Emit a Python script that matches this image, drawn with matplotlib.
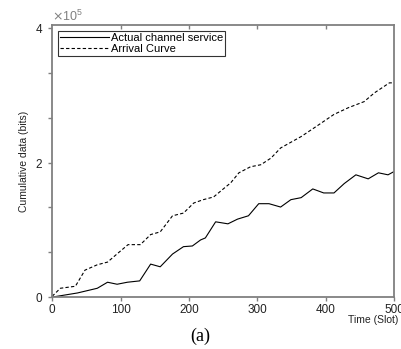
import numpy as np
import matplotlib.pyplot as plt
from matplotlib.ticker import ScalarFormatter, MultipleLocator

# Actual channel service (solid)
service_slot = [1, 37, 66, 81, 95, 110, 128, 144, 158, 176, 192, 205, 217, 224,
                239, 257, 271, 287, 302, 317, 334, 349, 364, 381, 397, 412, 427,
                444, 462, 477, 491, 500]
service_bits = [0.00, 0.06, 0.13, 0.22, 0.19, 0.22, 0.24, 0.49, 0.45, 0.64, 0.75,
                0.76, 0.85, 0.88, 1.12, 1.09, 1.16, 1.21, 1.39, 1.39, 1.34, 1.45,
                1.48, 1.61, 1.55, 1.55, 1.69, 1.82, 1.76, 1.85, 1.82, 1.87]

# Arrival curve (dashed)
arrival_slot = [0, 12, 34, 48, 66, 81, 97, 111, 129, 144, 158, 176, 192, 207, 221,
                236, 249, 261, 273, 290, 305, 320, 334, 364, 386, 412, 433, 456,
                471, 493, 500]
arrival_bits = [0.01, 0.13, 0.16, 0.40, 0.48, 0.52, 0.66, 0.78, 0.78, 0.93, 0.97,
                1.21, 1.25, 1.40, 1.45, 1.49, 1.60, 1.70, 1.85, 1.94, 1.97, 2.07,
                2.22, 2.39, 2.54, 2.72, 2.82, 2.91, 3.04, 3.19, 3.19]

x_ticks = [0, 100, 200, 300, 400, 500]

plt.rcParams['font.family'] = ['Liberation Sans', 'DejaVu Sans']

fig = plt.figure(figsize=(4.01, 3.49), dpi=100)
ax = fig.add_axes([0.130, 0.149, 0.853, 0.779])

ax.plot(service_slot, np.array(service_bits) * 1e5, color='black', linewidth=0.8,
        label='Actual channel service')
ax.plot(arrival_slot, np.array(arrival_bits) * 1e5, color='black', linewidth=0.8,
        linestyle=(0, (3, 2)), label='Arrival Curve')

ax.set_xlim(0, 500)
ax.set_ylim(0, 4.05e5)
ax.set_xticks(x_ticks)
ax.set_yticks([0, 2e5, 4e5])
ax.yaxis.set_minor_locator(MultipleLocator(2e5 / 3))

fmt = ScalarFormatter(useMathText=True)
fmt.set_powerlimits((0, 0))
ax.yaxis.set_major_formatter(fmt)
ax.yaxis.get_offset_text().set_fontsize(9)
ax.yaxis.get_offset_text().set_color('#333333')

for s in ax.spines.values():
    s.set_color('#808080')
    s.set_linewidth(1.3)

ax.tick_params(axis='both', labelsize=8.5, colors='#808080', labelcolor='#222222',
               width=1, length=3, direction='out')
ax.tick_params(axis='y', which='minor', length=3, width=1, colors='#808080',
               direction='out')
ax.xaxis.set_tick_params(which='major', pad=2)

# top ticks point inward
top = ax.secondary_xaxis('top')
top.set_xticks(x_ticks[1:-1])
top.tick_params(direction='in', length=3, width=1, colors='#808080', labeltop=False)
top.spines['top'].set_visible(False)

ax.set_ylabel('Cumulative data (bits)', fontsize=7.5, color='#222222', labelpad=4)
ax.set_xlabel('Time (Slot)', fontsize=7.5, color='#222222', labelpad=1)
ax.xaxis.set_label_coords(1.012, -0.065)
ax.xaxis.label.set_horizontalalignment('right')

leg = ax.legend(loc='upper left', fontsize=8, frameon=True, fancybox=False,
                borderpad=0.2, handlelength=4.4, handletextpad=0.2,
                labelspacing=0.1, borderaxespad=0.5, bbox_to_anchor=(0.0, 1.0))
leg.get_frame().set_edgecolor('black')
leg.get_frame().set_linewidth(0.8)

fig.text(0.5, 0.035, '(a)', ha='center', va='center', fontsize=13,
         family='Liberation Serif')

fig.savefig('out.png', dpi=100)
